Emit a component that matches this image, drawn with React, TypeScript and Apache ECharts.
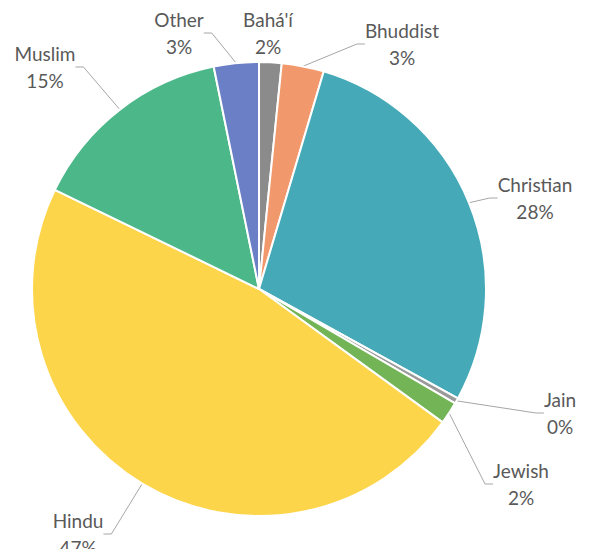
import React, { useEffect, useRef } from "react";
import * as echarts from "echarts";

const categories = ["Bahá'í", "Bhuddist", "Christian", "Jain", "Jewish", "Hindu", "Muslim", "Other"];
const values = [1.6, 3.0, 28.4, 0.4, 1.6, 47.2, 14.6, 3.2];
const colors = ["#8b8b8b", "#f1996c", "#45a9b8", "#9a9a9a", "#73b556", "#fdd54a", "#4cb88a", "#6b7fc7"];
const showGuide = [false, true, true, true, true, true, true, true];
const labelCenters = [
  [268, 33],
  [402, 44],
  [535, 198],
  [560, 413],
  [521, 484],
  [78, 534],
  [45, 67],
  [179, 33],
];

export default function App() {
  const ref = useRef<HTMLDivElement>(null);
  useEffect(() => {
    if (!ref.current) return;
    const chart = echarts.init(ref.current, null, { renderer: "svg" });
    chart.setOption({
      animation: false,
      backgroundColor: "#ffffff",
      series: [
        {
          type: "pie",
          center: [259, 289],
          radius: [0, 227],
          startAngle: 90,
          clockwise: true,
          avoidLabelOverlap: false,
          itemStyle: { borderColor: "#ffffff", borderWidth: 2 },
          label: {
            show: true,
            position: "outside",
            formatter: (p: any) => `${p.name}\n${Math.round(p.percent)}%`,
            fontFamily: "Lato",
            fontSize: 19,
            lineHeight: 27,
            color: "#595959",
            align: "center",
          },
          labelLine: {
            show: true,
            length: 10,
            length2: 8,
            lineStyle: { color: "#a6a6a6", width: 1 },
          },
          labelLayout: (params: any) => {
            const c = labelCenters[params.dataIndex];
            return { x: c[0], y: c[1], align: "center", verticalAlign: "middle" };
          },
          data: categories.map((name, i) => ({
            name,
            value: values[i],
            itemStyle: { color: colors[i] },
            labelLine: { show: showGuide[i] },
          })),
        },
      ],
    });
    return () => chart.dispose();
  }, []);
  return (
    <div
      ref={ref}
      style={{ position: "fixed", left: 0, top: 0, width: 605, height: 549 }}
    />
  );
}
